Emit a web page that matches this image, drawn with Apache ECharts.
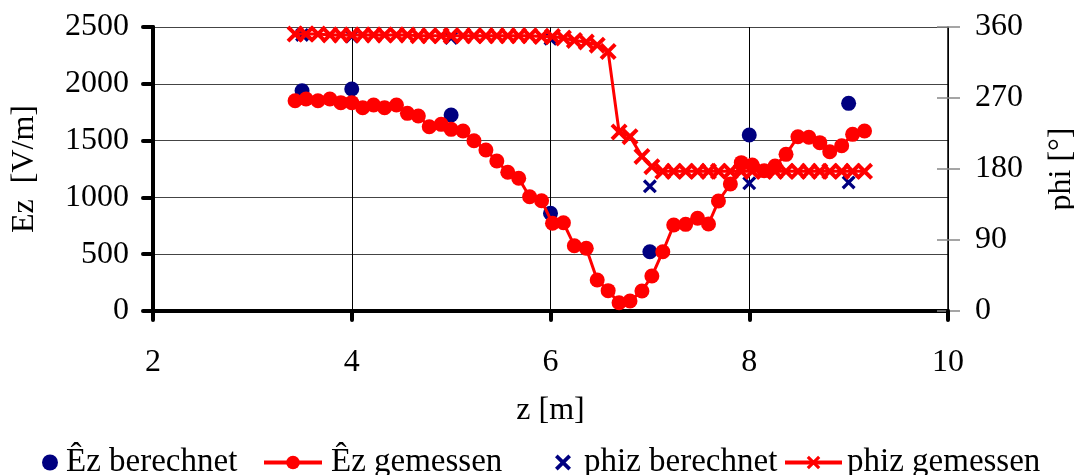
<!DOCTYPE html>
<html>
<head>
<meta charset="utf-8">
<script src="https://cdn.jsdelivr.net/npm/echarts@6/dist/echarts.min.js"></script>
<style>html,body{margin:0;padding:0;background:#fff;overflow:hidden;}#c{width:1074px;height:475px;}</style>
</head>
<body>
<div id="c"></div>
<script>
// measured positions z [m]
var zMeas = [3.43,3.54,3.66,3.78,3.89,4.00,4.11,4.22,4.33,4.45,4.56,4.67,4.78,4.90,5.00,5.12,5.23,5.35,5.46,5.57,5.68,5.79,5.91,6.02,6.13,6.24,6.36,6.47,6.58,6.69,6.80,6.92,7.02,7.13,7.24,7.36,7.48,7.59,7.69,7.81,7.92,8.03,8.15,8.26,8.37,8.49,8.60,8.71,8.81,8.93,9.04,9.16];
var ezMeas = [1851,1866,1851,1866,1834,1834,1790,1813,1790,1813,1740,1717,1622,1643,1599,1584,1499,1417,1320,1221,1168,1006,971,772,777,575,552,273,179,73,88,176,308,522,757,763,816,766,968,1118,1306,1285,1235,1276,1379,1534,1529,1482,1402,1455,1555,1584];
var phiMeas = [351,351,351,350,350,350,350,350,350,350,350,349,349,349,349,349,349,349,349,349,349,349,348,348,346,343,341,337,329,227,221,196,183,177,177,177,177,177,177,177,177,177,177,177,177,177,177,177,177,177,177,177];
// calculated
var zCalc = [3.5,4,5,6,7,8,9];
var ezCalc = [1939,1954,1725,860,522,1549,1828];
var phiCalc = [350,348,346,345,158,162,163];
// axis ticks
var xTicks = {min:2, max:10, interval:2};
var ezTicks = {min:0, max:2500, interval:500};
var phiTicks = {min:0, max:360, interval:90};
var names = ['\u00CAz berechnet','\u00CAz gemessen','phiz berechnet','phiz gemessen'];

function pairs(xs, ys){ return xs.map(function(x,i){ return [x, ys[i]]; }); }
function plain(v){ return String(v); }

var FONT = 'Liberation Serif';
var FS = 32;
var X = 'path://M0,2.3L2.3,0L7,4.7L11.7,0L14,2.3L9.3,7L14,11.7L11.7,14L7,9.3L2.3,14L0,11.7L4.7,7Z';
var RED = '#ff0000', NAVY = '#000080';

var chart = echarts.init(document.getElementById('c'), null, {renderer:'canvas'});
function legend(name, left, w, pad){
  return {data:[name], left:left, top:446, padding:0, itemWidth:w, itemHeight:17, itemGap:0,
    lineStyle:{width:4},
    textStyle:{fontFamily:FONT, fontSize:33, color:'#000', padding:[0,0,0,pad]}, selectedMode:false};
}
chart.setOption({
  animation:false,
  backgroundColor:'#fff',
  grid:{left:153, right:126, top:27, bottom:164, containLabel:false, outerBoundsMode:'none'},
  legend:[legend(names[0],42,16,3), legend(names[1],262,58,4), legend(names[2],555,16,8), legend(names[3],783,57,0)],
  xAxis:{type:'value', min:xTicks.min, max:xTicks.max, interval:xTicks.interval,
    name:'z [m]', nameLocation:'middle', nameGap:84,
    nameTextStyle:{fontFamily:FONT, fontSize:FS, color:'#000'},
    axisLine:{show:true, onZero:false, lineStyle:{color:'#000', width:4}},
    axisTick:{show:true, length:9, lineStyle:{color:'#000', width:4, cap:'round'}},
    axisLabel:{fontFamily:FONT, fontSize:FS, color:'#000', margin:36, formatter:plain},
    splitLine:{show:true, lineStyle:{color:'#000', width:1}}},
  yAxis:[
    {type:'value', position:'left', min:ezTicks.min, max:ezTicks.max, interval:ezTicks.interval,
     name:'Ez  [V/m]', nameLocation:'middle', nameGap:112, nameRotate:90,
     nameTextStyle:{fontFamily:FONT, fontSize:FS, color:'#000'},
     axisLine:{show:true, lineStyle:{color:'#000', width:4}},
     axisTick:{show:true, length:10, lineStyle:{color:'#000', width:4, cap:'round'}},
     axisLabel:{fontFamily:FONT, fontSize:FS, color:'#000', margin:24, formatter:plain},
     splitLine:{show:true, lineStyle:{color:'#444', width:1}}},
    {type:'value', position:'right', min:phiTicks.min, max:phiTicks.max, interval:phiTicks.interval,
     name:'phi [\u00B0]', nameLocation:'middle', nameGap:98, nameRotate:90,
     nameTextStyle:{fontFamily:FONT, fontSize:FS, color:'#000'},
     axisLine:{show:true, lineStyle:{color:'#000', width:1.5}},
     axisTick:{show:true, length:12, lineStyle:{color:'#888', width:1.5}},
     axisLabel:{fontFamily:FONT, fontSize:FS, color:'#000', margin:27, formatter:plain},
     splitLine:{show:false}},
    {type:'value', position:'right', min:phiTicks.min, max:phiTicks.max, interval:phiTicks.interval,
     axisLine:{show:false},
     axisTick:{show:true, inside:true, length:11, lineStyle:{color:'#888', width:1.5}},
     axisLabel:{show:false}, splitLine:{show:false}}
  ],
  series:[
    {name:names[0], type:'scatter', yAxisIndex:0, symbol:'circle', symbolSize:15,
     itemStyle:{color:NAVY, opacity:1}, data:pairs(zCalc, ezCalc), z:2},
    {name:names[1], type:'line', yAxisIndex:0, symbol:'circle', symbolSize:15, showAllSymbol:true,
     lineStyle:{color:RED, width:3}, itemStyle:{color:RED, borderWidth:0},
     data:pairs(zMeas, ezMeas), z:3},
    {name:names[2], type:'scatter', yAxisIndex:1, symbol:X, symbolSize:14,
     itemStyle:{color:NAVY, borderWidth:0, opacity:1}, data:pairs(zCalc, phiCalc), z:4},
    {name:names[3], type:'line', yAxisIndex:1, symbol:X, symbolSize:17, showAllSymbol:true,
     lineStyle:{color:RED, width:3}, itemStyle:{color:RED, borderWidth:0},
     data:pairs(zMeas, phiMeas), z:5}
  ]
});
</script>
</body>
</html>
